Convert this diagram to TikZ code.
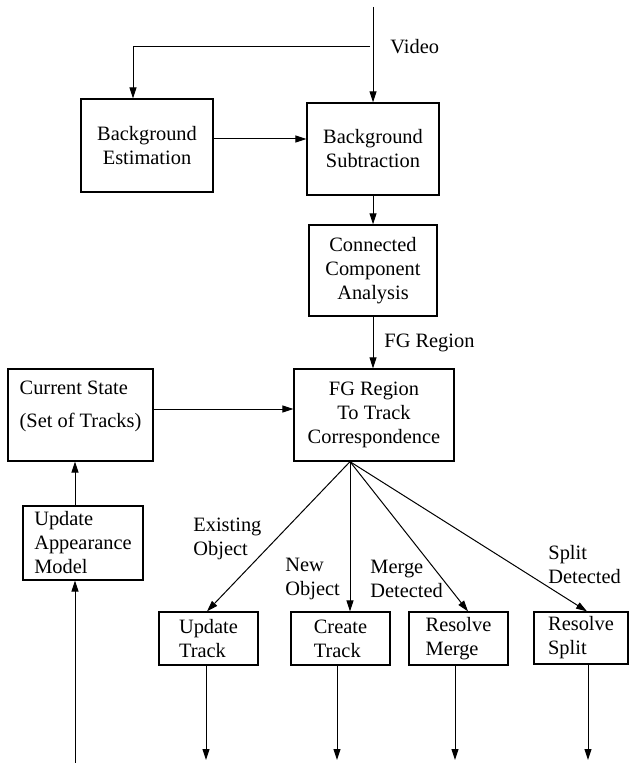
\documentclass[tikz,border=0pt]{standalone}
\usepackage{fontspec}
\setmainfont{Liberation Serif}
\usepackage{tikz}
\usetikzlibrary{arrows.meta,calc}

\begin{document}
\begin{tikzpicture}[x=0.5pt,y=-0.5pt,
    font=\fontsize{10.2pt}{12pt}\selectfont,
    proc_box/.style={draw,line width=0.65pt,inner sep=2pt,align=center},
    flow_arrow/.style={-{Triangle[length=5.5pt,width=3.5pt]},line width=0.5pt},
    edge_label/.style={inner sep=0pt,anchor=west,align=left}]

    \useasboundingbox (0,0) rectangle (629,763);

    \node[proc_box,minimum width=66pt,minimum height=46.5pt] (be) at (147,145.5) {Background\\Estimation};
    \node[proc_box,minimum width=66pt,minimum height=46pt] (bs) at (373,149) {Background\\Subtraction};
    \node[proc_box,minimum width=64pt,minimum height=45.5pt] (cca) at (373,270.5) {Connected\\Component\\Analysis};
    \node[proc_box,minimum width=80pt,minimum height=46pt] (fg) at (374,415) {FG Region\\To Track\\Correspondence};
    \node[proc_box,align=left,text depth=10.5pt,minimum width=72.5pt,minimum height=46pt] (cs) at (80.5,415) {Current State\\[4.5pt](Set of Tracks)};
    \node[proc_box,align=left,minimum width=60pt,minimum height=37pt] (uam) at (83,543) {Update\\Appearance\\Model};
    \node[proc_box,align=left,minimum width=49.5pt,minimum height=26.5pt] (ut) at (208.5,638.5) {Update\\Track};
    \node[proc_box,align=left,minimum width=49.5pt,minimum height=26.5pt] (ct) at (340.5,638.5) {Create\\Track};
    \node[proc_box,align=left,minimum width=49.5pt,minimum height=26.5pt] (rm) at (458.5,638.5) {Resolve\\Merge};
    \node[proc_box,align=left,minimum width=47pt,minimum height=26pt] (rs) at (581,638) {Resolve\\Split};

    \node[edge_label] (video_lbl) at (390,47) {Video};
    \node[edge_label] (fg_lbl) at (384,343) {FG Region};
    \node[edge_label] (exist_lbl) at (193,538.5) {Existing\\Object};
    \node[edge_label] (new_lbl) at (285,578.5) {New\\Object};
    \node[edge_label] (merge_lbl) at (370,578.5) {Merge\\Detected};
    \node[edge_label] (split_lbl) at (548,565) {Split\\Detected};

    \coordinate (video_in) at (373,7);
    \coordinate (video_split) at (370,47);
    \coordinate (fork) at ($(fg.south)+(-24,0)$);
    \coordinate (uam_top) at ($(uam.north)+(-8,0)$);
    \coordinate (model_in) at (75,763);
    \coordinate (ut_out) at (206,760);
    \coordinate (ct_out) at (337,760);
    \coordinate (rm_out) at (455,760);
    \coordinate (rs_out) at (588,760);

    \draw[flow_arrow] (video_in) -- (bs.north);
    \draw[flow_arrow] (video_split) -| ($(be.north)+(-14,0)$);
    \draw[flow_arrow] ($(be.east)+(0,-6.5)$) -- ($(bs.west)+(0,-10)$);
    \draw[flow_arrow] (bs.south) -- (cca.north);
    \draw[flow_arrow] (cca.south) -- (cca.south |- fg.north);
    \draw[flow_arrow] ($(cs.east)+(0,-6)$) -- ($(fg.west)+(0,-6)$);
    \draw[flow_arrow] (uam_top) -- (uam_top |- cs.south);
    \draw[flow_arrow] (model_in) -- (model_in |- uam.south);
    \draw[flow_arrow] (fork) -- ($(ut.north)+(-1.5,0)$);
    \draw[flow_arrow] (fork) -- (fork |- ct.north);
    \draw[flow_arrow] (fork) -- ($(rm.north)+(9.5,0)$);
    \draw[flow_arrow] (fork) -- ($(rs.north)+(6,0)$);
    \draw[flow_arrow] (ut_out |- ut.south) -- (ut_out);
    \draw[flow_arrow] (ct_out |- ct.south) -- (ct_out);
    \draw[flow_arrow] (rm_out |- rm.south) -- (rm_out);
    \draw[flow_arrow] (rs_out |- rs.south) -- (rs_out);
\end{tikzpicture}
\end{document}
